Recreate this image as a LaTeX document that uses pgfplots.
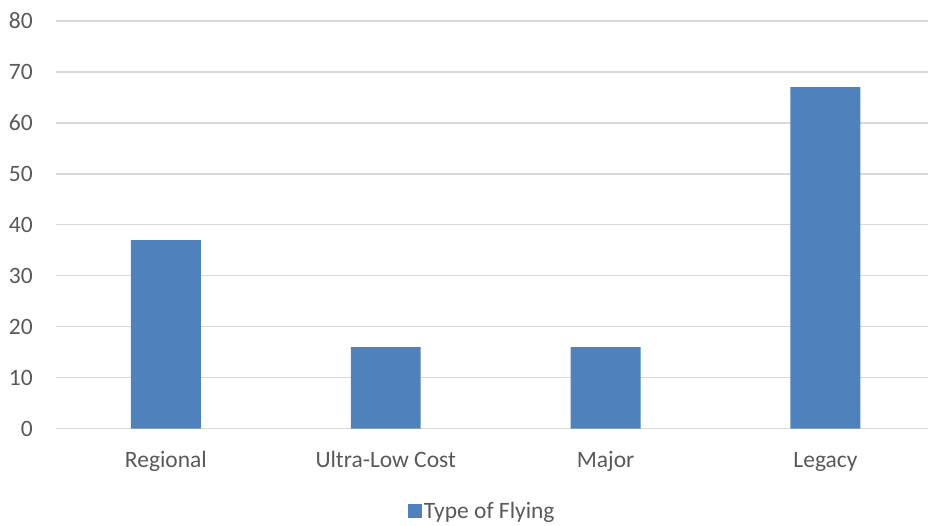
\documentclass[border=0pt]{standalone}
\usepackage{fontspec}
\setmainfont{Carlito}
\usepackage{pgfplots}
\pgfplotsset{compat=1.18}
\definecolor{barblue}{HTML}{4F81BD}
\definecolor{gridgray}{HTML}{D9D9D9}
\definecolor{labelgray}{HTML}{595959}
\begin{document}
\begin{tikzpicture}
\fontsize{23.5bp}{28bp}\selectfont
\begin{axis}[
  at={(0,0)}, anchor=south west,
  scale only axis,
  width=873bp, height=408bp,
  ybar, bar width=70bp,
  xmin=-0.5, xmax=3.468,
  ymin=0, ymax=80,
  ytick={0,10,...,80},
  xtick=data,
  xticklabels={Regional, Ultra-Low Cost, Major, Legacy},
  ymajorgrids,
  grid style={gridgray, line width=1.3bp},
  axis x line*=bottom,
  axis y line*=left,
  y axis line style={draw=none},
  x axis line style={gridgray, line width=1.3bp},
  major tick length=0pt,
  tick label style={font=\fontsize{23.5bp}{28bp}\selectfont, text=labelgray},
  xticklabel style={anchor=base, yshift=-39bp},
  yticklabel style={anchor=base east, yshift=-8bp, xshift=-23bp, inner sep=0pt},
  /pgf/number format/assume math mode=true,
  legend style={draw=none, fill=none,
    at={(axis description cs:0.4886,-0.2034)}, anchor=center,
    font=\fontsize{23.5bp}{28bp}\selectfont, text=labelgray,
    /tikz/every even column/.append style={column sep=0pt}},
  legend image code/.code={\fill[barblue] (0bp,-6bp) rectangle (14bp,8bp);},
  clip=false,
]
\addplot[fill=barblue, draw=none] coordinates {(0,37) (1,16) (2,16) (3,67)};
\addlegendentry{Type of Flying}
\end{axis}
\useasboundingbox (-56bp,-96bp) rectangle (873bp,429bp);
\end{tikzpicture}
\end{document}
